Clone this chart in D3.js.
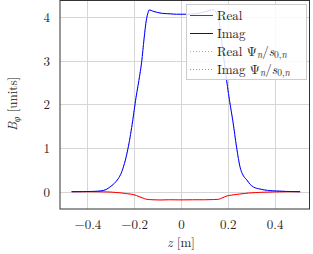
<!DOCTYPE html>
<html>
<head>
<meta charset="utf-8">
<script src="https://cdn.jsdelivr.net/npm/d3@7"></script>
<style>
body{margin:0;background:#fff;}
svg{display:block;}
</style>
</head>
<body>
<svg id="chart" width="313" height="254"></svg>
<script>
// ---- data ----
const zImag = [-0.467,-0.42,-0.38,-0.346,-0.32,-0.303,-0.285,-0.268,-0.255,-0.247,-0.225,-0.206,-0.194,-0.18,-0.168,-0.158,-0.148,-0.14,-0.135,-0.12,-0.10,-0.08,-0.047,-0.02,0.0,0.03,0.06,0.09,0.11,0.125,0.138,0.15,0.16,0.175,0.19,0.207,0.221,0.238,0.252,0.265,0.281,0.295,0.309,0.338,0.37,0.409,0.45,0.509];
const imagVals = [0,0.002,0.006,0.016,0.05,0.11,0.19,0.3,0.43,0.55,1.03,1.64,2.1,2.55,2.98,3.5,3.94,4.12,4.17,4.14,4.11,4.09,4.08,4.07,4.07,4.07,4.08,4.11,4.14,4.16,4.17,4.12,3.98,3.4,2.75,2.1,1.64,1.0,0.57,0.38,0.27,0.17,0.11,0.06,0.03,0.016,0.006,0];
const zReal = [-0.467,-0.40,-0.35,-0.303,-0.26,-0.232,-0.21,-0.197,-0.19,-0.175,-0.161,-0.147,-0.12,-0.09,-0.05,0,0.05,0.1,0.14,0.16,0.175,0.195,0.22,0.252,0.29,0.338,0.4,0.45,0.509];
const realVals = [0,0,-0.002,-0.008,-0.025,-0.045,-0.06,-0.075,-0.09,-0.12,-0.15,-0.175,-0.185,-0.19,-0.185,-0.188,-0.185,-0.185,-0.18,-0.175,-0.145,-0.1,-0.075,-0.053,-0.03,-0.015,-0.005,0,0];
// Psi-reconstructed curves coincide with the direct ones in the picture
const realPsiVals = realVals.slice();
const imagPsiVals = imagVals.slice();
const xTicks = [-0.4,-0.2,0,0.2,0.4];
const xTickLabels = ["\u22120.4","\u22120.2","0","0.2","0.4"];
const yTicks = [0,1,2,3,4];
const yTickLabels = ["0","1","2","3","4"];
const legendLabels = ["Real","Imag","Real","Imag"];

// ---- layout ----
const FONT = "'Latin Modern Roman', 'CMU Serif', 'Liberation Serif'";
const FS = "13px", SUB = "9.5px";
const L = 60, R = 309.5, T = 0.5, B = 209;
const svg = d3.select("#chart");
const x = d3.scaleLinear().domain([-0.517, 0.549]).range([L, R]);
const y = d3.scaleLinear().domain([-0.397, 4.385]).range([B, T]);

// grid
const grid = svg.append("g").attr("stroke","#d6d6d6").attr("stroke-width",1);
grid.selectAll("line.v").data(xTicks).join("line")
  .attr("x1",d=>Math.round(x(d))+0.5).attr("x2",d=>Math.round(x(d))+0.5)
  .attr("y1",T).attr("y2",B);
grid.selectAll("line.h").data(yTicks).join("line")
  .attr("y1",d=>Math.round(y(d))+0.5).attr("y2",d=>Math.round(y(d))+0.5)
  .attr("x1",L).attr("x2",R);

// axes labels via d3 axes
const xAxis = d3.axisBottom(x).tickValues(xTicks).tickSize(0).tickPadding(0)
  .tickFormat((d,i)=>xTickLabels[i]);
const gx = svg.append("g").attr("transform",`translate(0,${B})`).call(xAxis);
gx.select(".domain").remove();
gx.selectAll("text").style("font-family",FONT).style("font-size",FS).attr("fill","#222")
  .attr("dy",null).attr("y",20);

const yAxis = d3.axisLeft(y).tickValues(yTicks).tickSize(0).tickPadding(0)
  .tickFormat((d,i)=>yTickLabels[i]);
const gy = svg.append("g").attr("transform",`translate(${L},0)`).call(yAxis);
gy.select(".domain").remove();
gy.selectAll("text").style("font-family",FONT).style("font-size",FS).attr("fill","#222")
  .attr("x",-10).attr("dy","0.34em");

// lines
const line = (zs) => d3.line().curve(d3.curveMonotoneX).x((d,i)=>x(zs[i])).y(d=>y(d));
svg.append("path").datum(realVals).attr("d",line(zReal))
  .attr("fill","none").attr("stroke","#ff0000").attr("stroke-width",1);
svg.append("path").datum(imagVals).attr("d",line(zImag))
  .attr("fill","none").attr("stroke","#0000ff").attr("stroke-width",1);
svg.append("path").datum(realPsiVals).attr("d",line(zReal))
  .attr("fill","none").attr("stroke","#ff0000").attr("stroke-opacity",0.5)
  .attr("stroke-width",1).attr("stroke-dasharray","1,2");
svg.append("path").datum(imagPsiVals).attr("d",line(zImag))
  .attr("fill","none").attr("stroke","#0000ff").attr("stroke-opacity",0.5)
  .attr("stroke-width",1).attr("stroke-dasharray","1,2");

// frame
svg.append("rect").attr("x",L).attr("y",T).attr("width",R-L).attr("height",B-T)
  .attr("fill","none").attr("stroke","#333").attr("stroke-width",1);

// legend
const lg = svg.append("g");
lg.append("rect").attr("x",186.5).attr("y",4.5).attr("width",120).attr("height",75)
  .attr("fill","#fff").attr("fill-opacity",0.85).attr("stroke","#ccc").attr("stroke-width",1);
const lstyles = [
  {c:"#ff0000",o:1,dash:"none"},
  {c:"#0000ff",o:1,dash:"none"},
  {c:"#ff0000",o:0.45,dash:"1,2"},
  {c:"#0000ff",o:0.45,dash:"1,2"}];
const ly = [15,33,51,69];
lstyles.forEach((s,i)=>{
  lg.append("line").attr("x1",190).attr("x2",213).attr("y1",ly[i]+0.5).attr("y2",ly[i]+0.5)
    .attr("stroke",s.c).attr("stroke-opacity",s.o).attr("stroke-width",1)
    .attr("stroke-dasharray",s.dash);
  const t = lg.append("text").attr("x",217).attr("y",ly[i]+4.5)
    .style("font-family",FONT).style("font-size",FS).attr("fill","#222");
  t.append("tspan").text(legendLabels[i]);
  if(i>=2){
    t.append("tspan").text(" \u03A8");
    t.append("tspan").style("font-style","italic").style("font-size",SUB).attr("dy",2).text("n");
    t.append("tspan").attr("dy",-2).text("/");
    t.append("tspan").style("font-style","italic").text("s");
    t.append("tspan").style("font-size",SUB).attr("dy",2).text("0,");
    t.append("tspan").style("font-size",SUB).style("font-style","italic").text("n");
  }
});

// axis titles
const xt = svg.append("text").attr("x",181).attr("y",247).attr("text-anchor","middle")
  .style("font-family",FONT).style("font-size",FS).attr("fill","#222");
xt.append("tspan").style("font-style","italic").text("z");
xt.append("tspan").text(" [m]");

const yt = svg.append("text").attr("transform","translate(17,104) rotate(-90)")
  .attr("text-anchor","middle").style("font-family",FONT).style("font-size",FS).attr("fill","#222");
yt.append("tspan").style("font-style","italic").text("B");
yt.append("tspan").style("font-style","italic").style("font-size",SUB).attr("dy",2.5).text("\u03C6");
yt.append("tspan").attr("dy",-2.5).text(" [units]");
</script>
</body>
</html>
